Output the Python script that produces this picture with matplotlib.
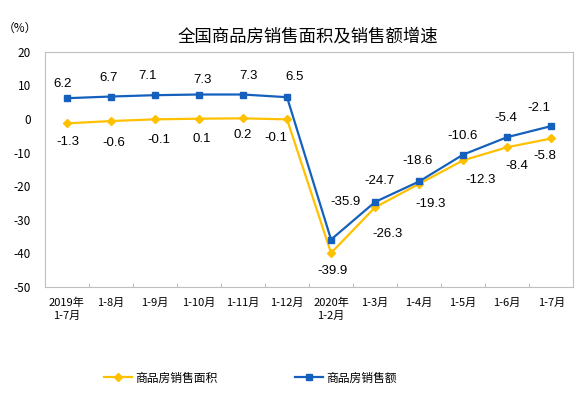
import numpy as np
import matplotlib.pyplot as plt

plt.rcParams['font.family'] = ['Noto Sans CJK SC', 'DejaVu Sans']
plt.rcParams['axes.unicode_minus'] = False

# ─── Data ─────────────────────────────────────────────────────────────────────
months = ["2019年\n1-7月", "1-8月", "1-9月", "1-10月", "1-11月", "1-12月",
          "2020年\n1-2月", "1-3月", "1-4月", "1-5月", "1-6月", "1-7月"]
area_growth = [-1.3, -0.6, -0.1, 0.1, 0.2, -0.1,
               -39.9, -26.3, -19.3, -12.3, -8.4, -5.8]
sales_growth = [6.2, 6.7, 7.1, 7.3, 7.3, 6.5,
                -35.9, -24.7, -18.6, -10.6, -5.4, -2.1]

# label offsets (pixels)
area_off = [(1, -19), (3, -22), (4, -21), (3, -20), (0, -17), (-11, -19),
            (1, -18), (12, -27), (11, -20), (17, -20), (10, -19), (-6, -18)]
sales_off = [(-4, 14), (-2, 19), (-7, 19), (4, 15), (6, 19), (8, 20),
             (14, 38), (4, 21), (-2, 20), (-1, 19), (-1, 19), (-12, 18)]

YELLOW = "#FFC000"
BLUE = "#1560BD"

fig = plt.figure(figsize=(5.82, 3.93), dpi=100)
ax = fig.add_axes([0.077, 0.270, 0.908, 0.598])
x = np.arange(len(months))

ax.plot(x, area_growth, color=YELLOW, lw=1.6, marker="D", ms=4.5,
        label="商品房销售面积")
ax.plot(x, sales_growth, color=BLUE, lw=1.6, marker="s", ms=4.5,
        label="商品房销售额")

for xi, v, (dx, dy) in zip(x, area_growth, area_off):
    ax.annotate(f"{v:.1f}", (xi, v), xytext=(dx, dy), textcoords="offset pixels",
                ha="center", va="center", fontsize=9.5, family="Liberation Sans")
for xi, v, (dx, dy) in zip(x, sales_growth, sales_off):
    ax.annotate(f"{v:.1f}", (xi, v), xytext=(dx, dy), textcoords="offset pixels",
                ha="center", va="center", fontsize=9.5, family="Liberation Sans")

ax.set_xlim(-0.5, len(months) - 0.5)
ax.set_ylim(-50, 20)
ax.set_yticks(range(-50, 21, 10))
ax.set_xticks(x)
ax.set_xticklabels(months, fontsize=8, linespacing=1.3)
ax.set_xticks(x[:-1] + 0.5, minor=True)
ax.tick_params(axis="x", which="major", length=0, pad=8)
ax.tick_params(axis="x", which="minor", direction="in", length=3,
               color="#BFBFBF", width=0.8)
ax.tick_params(axis="y", length=0, labelsize=8.5, pad=10)
for sp in ax.spines.values():
    sp.set_color("#BFBFBF")
    sp.set_linewidth(0.8)

fig.text(0.529, 0.906, "全国商品房销售面积及销售额增速", ha="center", va="center",
         fontsize=12.5)
fig.text(0.005, 0.928, "（%）", ha="left", va="center", fontsize=8.5)

fig.legend(loc="center", bbox_to_anchor=(0.43, 0.038), ncol=2, frameon=False,
           fontsize=8.5, handlelength=2.4, columnspacing=6.5, handletextpad=0.3)

fig.savefig("out.png", dpi=100)
